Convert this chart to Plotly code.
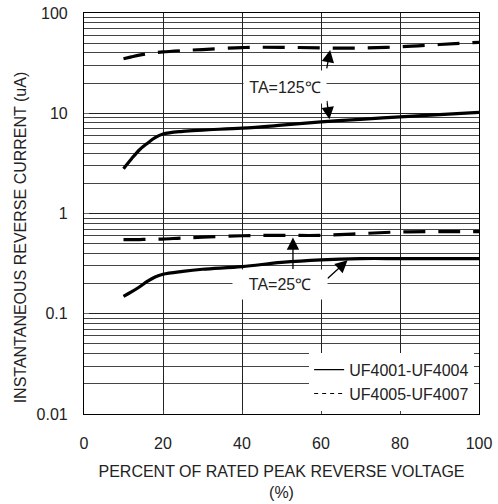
import numpy as np
import plotly.graph_objects as go

# ---- data ----
pct = [10, 12, 14, 16, 18, 20, 25, 30, 40, 50, 60, 70, 80, 90, 100]
uf4001_125 = [2.8, 3.5, 4.3, 5.0, 5.7, 6.2, 6.6, 6.8, 7.1, 7.6, 8.2, 8.7, 9.2, 9.7, 10.2]
uf4005_125 = [35, 36.5, 38, 39.2, 40.2, 41, 42.2, 43.2, 45.2, 45.5, 44.8, 44.7, 46, 48.5, 51]
uf4001_25 = [0.149, 0.165, 0.185, 0.21, 0.233, 0.248, 0.265, 0.278, 0.295, 0.325, 0.345, 0.355, 0.355, 0.355, 0.355]
uf4005_25 = [0.55, 0.55, 0.55, 0.552, 0.554, 0.556, 0.57, 0.58, 0.60, 0.605, 0.605, 0.63, 0.655, 0.66, 0.66]

x_ticks = [0, 20, 40, 60, 80, 100]
y_ticks = [0.01, 0.1, 1, 10, 100]
y_ticktext = ["0.01", "0.1", "1", "10", "100"]
legend_names = ["UF4001-UF4004", "UF4005-UF4007"]

FONT = "Liberation Sans, Arial, sans-serif"
DASH = "22px,13px"

fig = go.Figure()
for ys in (uf4005_125, uf4005_25):
    fig.add_trace(go.Scatter(x=pct, y=ys, mode="lines", line=dict(color="black", width=3.2, dash=DASH, shape="spline"), showlegend=False))
for ys in (uf4001_125, uf4001_25):
    fig.add_trace(go.Scatter(x=pct, y=ys, mode="lines", line=dict(color="black", width=3.2, shape="spline"), showlegend=False))

# legend-only entries (thin lines as in the reference legend)
fig.add_trace(go.Scatter(x=[None], y=[None], mode="lines", name=legend_names[0], line=dict(color="black", width=1.2)))
fig.add_trace(go.Scatter(x=[None], y=[None], mode="lines", name=legend_names[1], line=dict(color="black", width=1.2, dash="4px,4px")))

def ylog(xv, series):
    return float(np.log10(np.interp(xv, pct, series)))

arrow = dict(showarrow=True, arrowhead=2, arrowsize=1.9, arrowwidth=1.3, arrowcolor="black", standoff=2, text="", xref="x", yref="y")
annotations = [
    dict(x=62.4, y=ylog(62.4, uf4005_125), ax=-4, ay=22, **arrow),
    dict(x=62.2, y=ylog(62.2, uf4001_125), ax=-3, ay=-22, **arrow),
    dict(x=52.9, y=ylog(52.9, uf4005_25), ax=0, ay=35, **arrow),
    dict(x=67.1, y=ylog(67.1, uf4001_25), ax=-23, ay=21, **arrow),
    dict(x=51.0, y=1.26, xref="x", yref="y", text="TA=125℃", showarrow=False, bgcolor="white",
         width=80, height=30, font=dict(family=FONT, size=16, color="#222")),
    dict(x=49.5, y=-0.71, xref="x", yref="y", text="TA=25℃", showarrow=False, bgcolor="white",
         width=92, height=27, font=dict(family=FONT, size=16, color="#222")),
    dict(x=-0.16, y=0.44, xref="paper", yref="paper", text="INSTANTANEOUS REVERSE CURRENT (uA)", showarrow=False,
         textangle=-90, xanchor="center", yanchor="middle", font=dict(family=FONT, size=16, color="#222")),
]

fig.update_layout(
    width=498, height=504,
    margin=dict(l=84, r=19, t=13, b=90),
    paper_bgcolor="white", plot_bgcolor="white",
    font=dict(family=FONT, size=16, color="#222"),
    annotations=annotations,
    legend=dict(x=0.57, y=0.008, xanchor="left", yanchor="bottom", bgcolor="white", borderwidth=0,
                font=dict(family=FONT, size=16, color="#222"), itemwidth=30, tracegroupgap=0),
    xaxis=dict(range=[0, 100], tickvals=x_ticks, showgrid=True, gridcolor="#222", gridwidth=1,
               showline=True, linecolor="black", linewidth=1.2, mirror=True, zeroline=False,
               ticks="inside", ticklen=4, tickcolor="#444", ticklabelstandoff=15, automargin=False,
               title=dict(text="PERCENT OF RATED PEAK REVERSE VOLTAGE<br>(%)", standoff=14,
                          font=dict(family=FONT, size=16, color="#222"))),
    yaxis=dict(type="log", range=[-2, 2], tickvals=y_ticks, ticktext=y_ticktext, showgrid=True,
               gridcolor="#222", gridwidth=1, showline=True, linecolor="black", linewidth=1.2, mirror=True,
               ticks="inside", ticklen=5, tickcolor="#666", ticklabelstandoff=12, zeroline=False, automargin=False,
               minor=dict(dtick="D1", showgrid=True, gridcolor="#444", gridwidth=1, ticks="")),
)

fig.write_html("out.html", config={"displayModeBar": False},
               post_script="document.body.style.margin='0';document.body.style.overflow='hidden';")
